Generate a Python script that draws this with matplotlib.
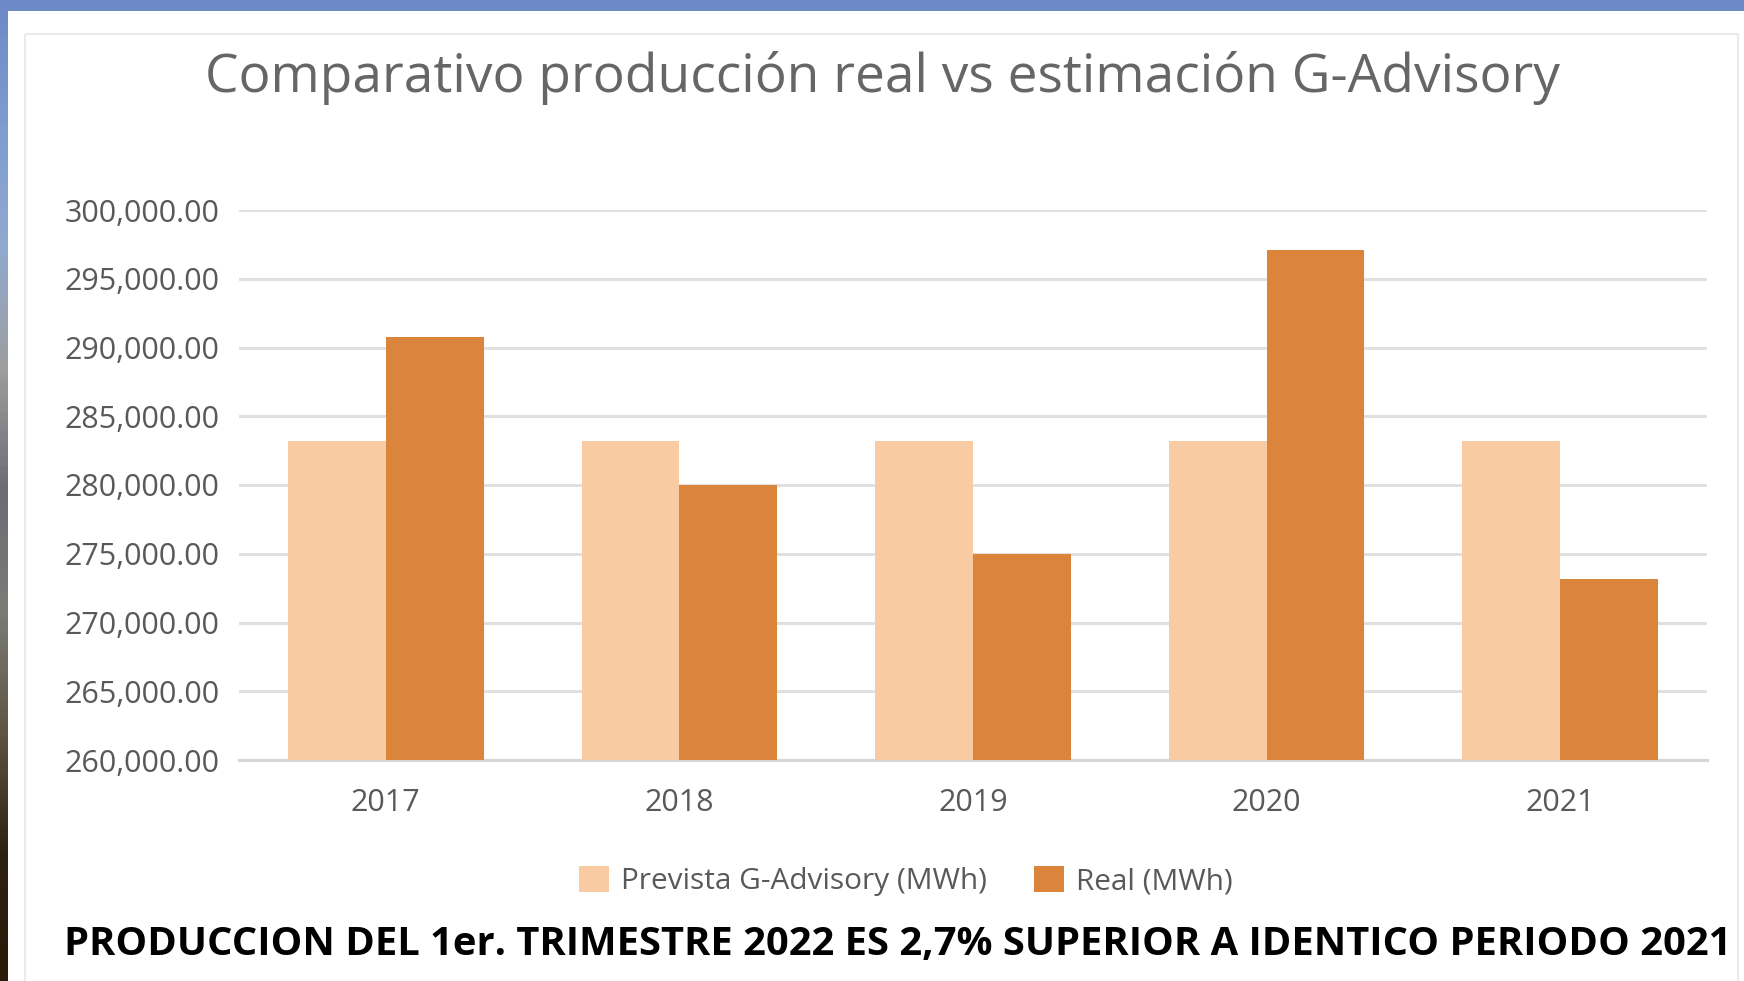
import matplotlib
matplotlib.use("Agg")
import matplotlib.pyplot as plt
import numpy as np
from matplotlib.patches import Rectangle
from matplotlib.colors import LinearSegmentedColormap

years = ["2017", "2018", "2019", "2020", "2021"]
prevista = [283200, 283200, 283200, 283200, 283200]
real = [290800, 280000, 275000, 297100, 273200]
y_ticks = [260000, 265000, 270000, 275000, 280000, 285000, 290000, 295000, 300000]
title = "Comparativo producción real vs estimación G-Advisory"
legend_labels = ["Prevista G-Advisory (MWh)", "Real (MWh)"]
footer = "PRODUCCION DEL 1er. TRIMESTRE 2022 ES 2,7% SUPERIOR A IDENTICO PERIODO 2021"

W, H = 1744, 981
fig = plt.figure(figsize=(W / 100, H / 100), dpi=100)
fig.patch.set_facecolor("white")

# background decorations (figure pixel coordinates)
bg = fig.add_axes([0, 0, 1, 1], zorder=-10)
bg.set_xlim(0, W)
bg.set_ylim(H, 0)
bg.axis("off")
bg.add_patch(Rectangle((0, 0), W, 11, color="#6C8AC6", lw=0))
cmap = LinearSegmentedColormap.from_list(
    "strip", ["#6C8AC6", "#7F9CD0", "#8FA9CF", "#9E9E9E", "#6E6A72", "#7A7C76", "#5E5442", "#2E2010", "#2A1A08"])
grad = np.linspace(0, 1, 200).reshape(-1, 1)
bg.imshow(grad, cmap=cmap, extent=(0, 7, H, 0), aspect="auto", zorder=1)
# chart card border
bg.add_patch(Rectangle((25, 34), 1713, 960, fill=False, ec="#EBEBEB", lw=1.5))

ax = fig.add_axes([239 / W, 1 - 760 / H, (1707 - 239) / W, (760 - 210) / H])
x = np.arange(len(years))
w = 1 / 3
ax.bar(x - w / 2, [p - y_ticks[0] for p in prevista], w, bottom=y_ticks[0],
       color="#F8CBA3", label=legend_labels[0], zorder=3)
ax.bar(x + w / 2, [r - y_ticks[0] for r in real], w, bottom=y_ticks[0],
       color="#DA843C", label=legend_labels[1], zorder=3)
ax.set_xlim(-0.5, len(years) - 0.5)
ax.set_ylim(y_ticks[0], y_ticks[-1])
ax.set_yticks(y_ticks)
ax.set_yticklabels([f"{v:,.2f}" for v in y_ticks])
ax.set_xticks(x)
ax.set_xticklabels(years)
ax.grid(axis="y", color="#E0E0E0", lw=2.2, zorder=0)
for s in ["top", "right", "left"]:
    ax.spines[s].set_visible(False)
ax.spines["bottom"].set_color("#D6D6D6")
ax.spines["bottom"].set_linewidth(2.2)
ax.tick_params(length=0, labelsize=22, colors="#595959", pad=14)
ax.tick_params(axis="x", pad=20)
for lab in ax.get_xticklabels() + ax.get_yticklabels():
    lab.set_family("Open Sans")

fig.text(882 / W, 1 - 78 / H, title, ha="center", va="center",
         fontsize=38.3, color="#666666", family="Open Sans")

leg = fig.legend(loc="center", bbox_to_anchor=(906 / W, 1 - 881 / H), ncol=2,
                 frameon=False, handlelength=1.0, handleheight=1.0, columnspacing=1.6,
                 handletextpad=0.4, prop={"family": "Open Sans", "size": 21.4})
for t in leg.get_texts():
    t.set_color("#595959")

fig.text(898 / W, 1 - 944 / H, footer, ha="center", va="center",
         fontsize=28.7, fontweight="bold", color="black", family="Open Sans")

fig.savefig("out.png", dpi=100)
